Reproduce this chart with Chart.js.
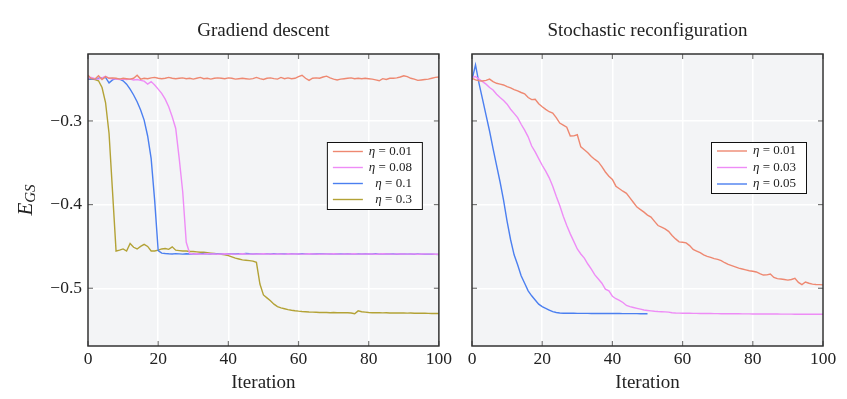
<!DOCTYPE html>
<html lang="en">
<head>
  <meta charset="UTF-8" />
  <title>Ground state energy vs iteration</title>
  <script src="https://cdn.jsdelivr.net/npm/chart.js"></script>
  <style>
    body { margin: 0; background: #fff; }
    .wrap { position: relative; width: 847px; height: 399px; }
    canvas { position: absolute; top: 0; }
    #gdChart { left: 0; }
    #srChart { left: 455px; }
  </style>
</head>
<body>
  <div class="wrap">
    <canvas id="gdChart" width="455" height="399"></canvas>
    <canvas id="srChart" width="392" height="399"></canvas>
  </div>

  <script>
    // x values (iteration index) and tick labels
    const iterations = [0,1,2,3,4,5,6,7,8,9,10,11,12,13,14,15,16,17,18,19,20,21,22,23,24,25,26,27,28,29,
      30,31,32,33,34,35,36,37,38,39,40,41,42,43,44,45,46,47,48,49,50,51,52,53,54,55,56,57,58,59,
      60,61,62,63,64,65,66,67,68,69,70,71,72,73,74,75,76,77,78,79,80,81,82,83,84,85,86,87,88,89,
      90,91,92,93,94,95,96,97,98,99,100];
    const xTicks = [0, 20, 40, 60, 80, 100];
    const yTicks = [-0.5, -0.4, -0.3];

    // Gradient descent
    const gd001 = [-0.2455,-0.2495,-0.2500,-0.2460,-0.2505,-0.2470,-0.2490,-0.2485,-0.2490,-0.2500,
      -0.2490,-0.2495,-0.2500,-0.2490,-0.2455,-0.2500,-0.2490,-0.2495,-0.2485,-0.2480,
      -0.2490,-0.2495,-0.2490,-0.2480,-0.2490,-0.2495,-0.2490,-0.2485,-0.2495,-0.2490,
      -0.2500,-0.2490,-0.2480,-0.2495,-0.2490,-0.2500,-0.2490,-0.2485,-0.2490,-0.2495,
      -0.2485,-0.2490,-0.2500,-0.2495,-0.2490,-0.2495,-0.2500,-0.2495,-0.2480,-0.2495,
      -0.2505,-0.2490,-0.2485,-0.2495,-0.2500,-0.2480,-0.2495,-0.2485,-0.2495,-0.2490,
      -0.2470,-0.2455,-0.2490,-0.2515,-0.2490,-0.2485,-0.2490,-0.2475,-0.2465,-0.2485,
      -0.2500,-0.2510,-0.2500,-0.2495,-0.2490,-0.2485,-0.2495,-0.2490,-0.2495,-0.2490,
      -0.2495,-0.2500,-0.2510,-0.2520,-0.2495,-0.2505,-0.2490,-0.2490,-0.2485,-0.2475,
      -0.2460,-0.2470,-0.2490,-0.2500,-0.2515,-0.2510,-0.2505,-0.2500,-0.2490,-0.2480,-0.2475];
    const gd008 = [-0.2490,-0.2480,-0.2495,-0.2500,-0.2485,-0.2465,-0.2490,-0.2495,-0.2500,-0.2505,
      -0.2500,-0.2505,-0.2500,-0.2510,-0.2505,-0.2515,-0.2525,-0.2560,-0.2530,-0.2570,
      -0.2620,-0.2670,-0.2740,-0.2830,-0.2950,-0.3090,-0.3450,-0.3850,-0.4450,-0.4585,
      -0.4590,-0.4588,-0.4592,-0.4590,-0.4586,-0.4591,-0.4589,-0.4593,-0.4590,-0.4588,
      -0.4591,-0.4589,-0.4592,-0.4590,-0.4587,-0.4590,-0.4592,-0.4589,-0.4591,-0.4590,
      -0.4588,-0.4591,-0.4590,-0.4593,-0.4589,-0.4590,-0.4592,-0.4588,-0.4591,-0.4590,
      -0.4589,-0.4592,-0.4590,-0.4588,-0.4591,-0.4590,-0.4593,-0.4589,-0.4590,-0.4591,
      -0.4588,-0.4590,-0.4592,-0.4589,-0.4591,-0.4590,-0.4588,-0.4592,-0.4590,-0.4591,
      -0.4589,-0.4590,-0.4593,-0.4590,-0.4588,-0.4591,-0.4590,-0.4592,-0.4589,-0.4591,
      -0.4590,-0.4592,-0.4589,-0.4590,-0.4593,-0.4590,-0.4591,-0.4592,-0.4590,-0.4593,-0.4594];
    const gd01 = [-0.2500,-0.2495,-0.2500,-0.2490,-0.2485,-0.2480,-0.2545,-0.2510,-0.2495,-0.2500,
      -0.2520,-0.2560,-0.2620,-0.2690,-0.2770,-0.2870,-0.2990,-0.3180,-0.3450,-0.3950,
      -0.4550,-0.4580,-0.4585,-0.4588,-0.4590,-0.4586,-0.4589,-0.4592,-0.4588,-0.4590,
      -0.4587,-0.4590,-0.4589,-0.4585,-0.4588,-0.4590,-0.4586,-0.4589,-0.4588,-0.4590,
      -0.4586,-0.4588,-0.4590,-0.4587,-0.4589,-0.4585,-0.4588,-0.4590,-0.4587,-0.4589,
      -0.4588,-0.4586,-0.4590,-0.4588,-0.4589,-0.4587,-0.4590,-0.4588,-0.4586,-0.4589,
      -0.4590,-0.4587,-0.4589,-0.4588,-0.4591,-0.4588,-0.4590,-0.4586,-0.4589,-0.4590,
      -0.4588,-0.4591,-0.4589,-0.4590,-0.4587,-0.4590,-0.4592,-0.4589,-0.4590,-0.4588,
      -0.4591,-0.4590,-0.4588,-0.4592,-0.4590,-0.4589,-0.4591,-0.4590,-0.4593,-0.4590,
      -0.4591,-0.4592,-0.4590,-0.4593,-0.4591,-0.4592,-0.4594,-0.4592,-0.4593,-0.4595,-0.4596];
    const gd03 = [-0.2500,-0.2500,-0.2505,-0.2520,-0.2600,-0.2780,-0.3150,-0.3850,-0.4555,-0.4545,
      -0.4530,-0.4555,-0.4465,-0.4510,-0.4530,-0.4500,-0.4475,-0.4500,-0.4555,-0.4555,
      -0.4545,-0.4530,-0.4525,-0.4535,-0.4505,-0.4545,-0.4550,-0.4555,-0.4555,-0.4560,
      -0.4560,-0.4565,-0.4570,-0.4570,-0.4575,-0.4580,-0.4585,-0.4590,-0.4595,-0.4600,
      -0.4610,-0.4625,-0.4640,-0.4650,-0.4660,-0.4665,-0.4670,-0.4675,-0.4690,-0.4950,
      -0.5080,-0.5115,-0.5150,-0.5190,-0.5220,-0.5235,-0.5245,-0.5255,-0.5262,-0.5268,
      -0.5273,-0.5277,-0.5280,-0.5283,-0.5285,-0.5287,-0.5289,-0.5290,-0.5290,-0.5292,
      -0.5290,-0.5292,-0.5291,-0.5292,-0.5293,-0.5295,-0.5305,-0.5270,-0.5280,-0.5285,
      -0.5290,-0.5292,-0.5293,-0.5292,-0.5294,-0.5293,-0.5295,-0.5294,-0.5296,-0.5295,
      -0.5296,-0.5297,-0.5296,-0.5298,-0.5297,-0.5299,-0.5298,-0.5300,-0.5301,-0.5300,-0.5302];

    // Stochastic reconfiguration
    const sr001 = [-0.2490,-0.2510,-0.2520,-0.2522,-0.2515,-0.2500,-0.2530,-0.2550,-0.2560,-0.2570,
      -0.2590,-0.2605,-0.2625,-0.2640,-0.2660,-0.2675,-0.2720,-0.2745,-0.2742,-0.2795,
      -0.2830,-0.2862,-0.2890,-0.2905,-0.2960,-0.3025,-0.3050,-0.3075,-0.3180,-0.3178,
      -0.3165,-0.3310,-0.3345,-0.3380,-0.3425,-0.3460,-0.3490,-0.3545,-0.3610,-0.3660,
      -0.3700,-0.3780,-0.3810,-0.3840,-0.3865,-0.3920,-0.3975,-0.4030,-0.4060,-0.4090,
      -0.4125,-0.4150,-0.4200,-0.4250,-0.4270,-0.4290,-0.4320,-0.4370,-0.4410,-0.4445,
      -0.4450,-0.4458,-0.4490,-0.4535,-0.4555,-0.4575,-0.4600,-0.4618,-0.4630,-0.4645,
      -0.4655,-0.4670,-0.4695,-0.4715,-0.4730,-0.4745,-0.4760,-0.4770,-0.4780,-0.4790,
      -0.4796,-0.4805,-0.4825,-0.4842,-0.4840,-0.4830,-0.4870,-0.4885,-0.4890,-0.4895,
      -0.4902,-0.4895,-0.4880,-0.4930,-0.4956,-0.4925,-0.4940,-0.4950,-0.4955,-0.4956,-0.4960];
    const sr003 = [-0.2480,-0.2470,-0.2500,-0.2530,-0.2560,-0.2600,-0.2630,-0.2680,-0.2720,-0.2755,
      -0.2800,-0.2860,-0.2910,-0.2960,-0.3040,-0.3110,-0.3190,-0.3300,-0.3370,-0.3450,
      -0.3530,-0.3600,-0.3680,-0.3780,-0.3900,-0.4010,-0.4140,-0.4250,-0.4350,-0.4440,
      -0.4530,-0.4590,-0.4640,-0.4710,-0.4770,-0.4840,-0.4890,-0.4940,-0.5010,-0.5030,
      -0.5095,-0.5125,-0.5145,-0.5170,-0.5205,-0.5220,-0.5230,-0.5240,-0.5250,-0.5260,
      -0.5265,-0.5270,-0.5275,-0.5278,-0.5280,-0.5282,-0.5285,
      -0.5292,-0.5296,-0.5297,-0.5298,-0.5298,-0.5299,-0.5300,-0.5300,-0.5301,-0.5301,
      -0.5302,-0.5302,-0.5303,-0.5303,-0.5304,-0.5304,-0.5304,-0.5305,-0.5305,-0.5305,
      -0.5306,-0.5306,-0.5306,-0.5307,-0.5307,-0.5307,-0.5307,-0.5308,-0.5308,-0.5308,
      -0.5308,-0.5309,-0.5309,-0.5309,-0.5309,-0.5310,-0.5310,-0.5310,-0.5310,-0.5310,-0.5311,-0.5311,-0.5311,-0.5311];
    const sr005 = [-0.2510,-0.2330,-0.2550,-0.2740,-0.2930,-0.3120,-0.3330,-0.3530,-0.3730,-0.3950,
      -0.4200,-0.4420,-0.4600,-0.4720,-0.4850,-0.4940,-0.5030,-0.5090,-0.5140,-0.5190,
      -0.5220,-0.5240,-0.5260,-0.5280,-0.5290,-0.5295,-0.5298,-0.5298,-0.5299,-0.5299,
      -0.5300,-0.5300,-0.5300,-0.5300,-0.5301,-0.5301,-0.5301,-0.5301,-0.5302,-0.5302,
      -0.5302,-0.5302,-0.5302,-0.5303,-0.5303,-0.5303,-0.5303,-0.5303,-0.5304,-0.5304,-0.5304];

    const SALMON = '#ee8871', VIOLET = '#ee8cf6', BLUE = '#4b7ff0', OLIVE = '#b3a236';
    const SERIF = '"Liberation Serif", "DejaVu Serif", serif';

    function line(ctx, x1, y1, x2, y2) {
      ctx.beginPath(); ctx.moveTo(x1, y1); ctx.lineTo(x2, y2); ctx.stroke();
    }

    // background, frame, inner ticks, axis labels and legend (pgfplots look)
    const frame = {
      id: 'frame',
      beforeDraw(chart) {
        const { ctx, chartArea: a } = chart;
        ctx.save();
        ctx.fillStyle = '#f3f4f6';
        ctx.fillRect(a.left, a.top, a.right - a.left, a.bottom - a.top);
        ctx.restore();
      },
      afterDraw(chart, args, opts) {
        const { ctx, chartArea: a, scales } = chart;
        ctx.save();
        ctx.strokeStyle = '#777';
        ctx.lineWidth = 1.2;
        xTicks.forEach(v => {
          const px = scales.x.getPixelForValue(v);
          line(ctx, px, a.bottom, px, a.bottom - 5);
          line(ctx, px, a.top, px, a.top + 5);
        });
        yTicks.forEach(v => {
          const py = scales.y.getPixelForValue(v);
          line(ctx, a.left, py, a.left + 5, py);
          line(ctx, a.right, py, a.right - 5, py);
        });
        ctx.strokeStyle = '#333';
        ctx.lineWidth = 1.5;
        ctx.strokeRect(a.left, a.top, a.right - a.left, a.bottom - a.top);

        ctx.fillStyle = '#222';
        ctx.textAlign = 'center';
        ctx.textBaseline = 'middle';
        ctx.font = '19px ' + SERIF;
        ctx.fillText('Iteration', (a.left + a.right) / 2, 383);

        if (opts.yTitle) {
          ctx.save();
          ctx.translate(26, (a.top + a.bottom) / 2);
          ctx.rotate(-Math.PI / 2);
          ctx.font = 'italic 21px ' + SERIF;
          const wE = ctx.measureText('E').width;
          ctx.font = 'italic 15px ' + SERIF;
          const wS = ctx.measureText('GS').width;
          const x0 = -(wE + wS) / 2;
          ctx.textAlign = 'left';
          ctx.font = 'italic 21px ' + SERIF;
          ctx.fillText('E', x0, 0);
          ctx.font = 'italic 15px ' + SERIF;
          ctx.fillText('GS', x0 + wE, 5);
          ctx.restore();
        }

        const box = opts.legend;
        const sets = chart.data.datasets;
        const left = a.right - box.right - box.width;
        const top = a.top + box.top;
        const h = box.gap * (sets.length - 1) + 2 * box.pad;
        ctx.fillStyle = '#fff';
        ctx.fillRect(left, top, box.width, h);
        ctx.strokeStyle = '#111';
        ctx.lineWidth = 1;
        ctx.strokeRect(left + 0.5, top + 0.5, box.width, h);
        sets.forEach((ds, i) => {
          const y = top + box.pad + i * box.gap;
          ctx.strokeStyle = ds.borderColor;
          ctx.lineWidth = 1.4;
          line(ctx, left + 6, y, left + 36, y);
          const parts = ds.label.split(' = ');
          const xr = left + box.width - 10;
          ctx.fillStyle = '#222';
          ctx.textAlign = 'right';
          ctx.font = '13px ' + SERIF;
          const rest = ' = ' + parts[1];
          ctx.fillText(rest, xr, y);
          const w = ctx.measureText(rest).width;
          ctx.font = 'italic 13px ' + SERIF;
          ctx.fillText(parts[0], xr - w, y);
        });
        ctx.restore();
      }
    };

    function makeOptions(title, showY, pad, legend) {
      return {
        responsive: false,
        animation: false,
        devicePixelRatio: 1,
        layout: { padding: pad },
        elements: { point: { radius: 0 }, line: { borderWidth: 1.4, tension: 0 } },
        plugins: {
          legend: { display: false },
          tooltip: { enabled: false },
          title: {
            display: true, text: title, fullSize: false, color: '#222',
            font: { family: SERIF, size: 19, weight: 'normal' },
            padding: { top: 20, bottom: 11.2 }
          },
          frame: { yTitle: showY, legend: legend }
        },
        scales: {
          x: {
            type: 'linear', min: 0, max: 100,
            afterBuildTicks: s => { s.ticks = xTicks.map(v => ({ value: v })); },
            afterFit: s => { s.height = 53; },
            grid: { color: '#fff', lineWidth: 1.5, drawTicks: false },
            border: { display: false },
            ticks: { color: '#222', padding: 3, font: { family: SERIF, size: 17.5 } }
          },
          y: {
            min: -0.569, max: -0.22,
            afterBuildTicks: s => { s.ticks = yTicks.map(v => ({ value: v })); },
            afterFit: s => { s.width = showY ? 88 : 0; },
            grid: { color: '#fff', lineWidth: 1.5, drawTicks: false },
            border: { display: false },
            ticks: {
              display: showY, color: '#222', padding: 6,
              font: { family: SERIF, size: 17.5 },
              callback: v => '\u2212' + Math.abs(v).toFixed(1)
            }
          }
        }
      };
    }

    new Chart(document.getElementById('gdChart'), {
      type: 'line',
      data: {
        labels: iterations,
        datasets: [
          { label: 'η = 0.01', data: gd001, borderColor: SALMON },
          { label: 'η = 0.08', data: gd008, borderColor: VIOLET },
          { label: 'η = 0.1', data: gd01, borderColor: BLUE },
          { label: 'η = 0.3', data: gd03, borderColor: OLIVE }
        ]
      },
      options: makeOptions('Gradiend descent', true, { left: 0, right: 16, top: 0, bottom: 0 },
        { right: 17, top: 88, width: 95, gap: 16, pad: 9.5 }),
      plugins: [frame]
    });

    new Chart(document.getElementById('srChart'), {
      type: 'line',
      data: {
        labels: iterations,
        datasets: [
          { label: 'η = 0.01', data: sr001, borderColor: SALMON },
          { label: 'η = 0.03', data: sr003, borderColor: VIOLET },
          { label: 'η = 0.05', data: sr005, borderColor: BLUE }
        ]
      },
      options: makeOptions('Stochastic reconfiguration', false, { left: 17, right: 24, top: 0, bottom: 0 },
        { right: 17, top: 88, width: 95, gap: 16.5, pad: 9 }),
      plugins: [frame]
    });
  </script>
</body>
</html>
